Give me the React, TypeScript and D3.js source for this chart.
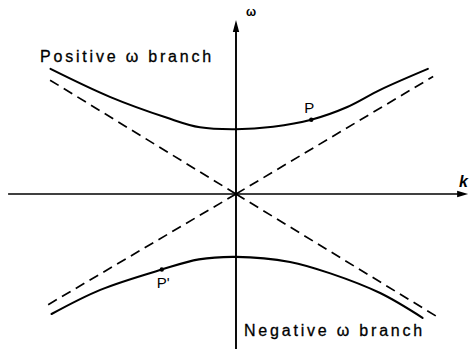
import React from "react";
import * as d3 from "d3";

// Dispersion branches read as (k, ω) samples
const upperK = [-1.75, -1.19, -0.65, -0.34, 0, 0.35, 0.71, 1.05, 1.36, 1.81];
const upperW = [1.97, 1.53, 1.2, 1.05, 1.02, 1.06, 1.17, 1.37, 1.64, 1.97];
const lowerK = [-1.74, -1.28, -0.7, -0.35, 0, 0.51, 0.89, 1.36, 1.76];
const lowerW = [-1.89, -1.51, -1.19, -1.03, -0.99, -1.07, -1.25, -1.56, -1.95];

// Light-cone asymptotes, drawn as rays out of the origin
const asymK = [-1.8, 1.86, -1.82, 1.905];
const asymW = [1.84, 1.85, -1.79, -1.94];

// Marked points on each branch
const pointNames = ["P", "P'"];
const pointK = [0.71, -0.7];
const pointW = [1.17, -1.19];

// Axis extents
const kAxis = [-2.15, 2.19];
const wAxis = [-2.45, 2.74];

const W = 469;
const H = 349;
const cx = 236;
const cy = 194;

export default function App() {
  const x = d3.scaleLinear().domain([-1, 1]).range([cx - 106, cx + 106]);
  const y = d3.scaleLinear().domain([-1, 1]).range([cy + 63.5, cy - 63.5]);

  const line = d3
    .line<[number, number]>()
    .x((d) => x(d[0]))
    .y((d) => y(d[1]))
    .curve(d3.curveCatmullRom.alpha(0.5));

  const upper = upperK.map((k, i) => [k, upperW[i]] as [number, number]);
  const lower = lowerK.map((k, i) => [k, lowerW[i]] as [number, number]);

  const font = "'Liberation Sans', Arial, sans-serif";
  const xEnd = x(kAxis[1]);
  const yTop = y(wAxis[1]);

  return (
    <svg
      width={W}
      height={H}
      style={{ position: "absolute", left: 0, top: 0, background: "#fff" }}
    >
      {/* axes */}
      <line x1={x(kAxis[0])} x2={xEnd - 6} y1={y(0)} y2={y(0)} stroke="#000" strokeWidth={1.6} />
      <path
        d={`M${xEnd},${y(0)} L${xEnd - 11},${y(0) - 3.2} L${xEnd - 11},${y(0) + 3.2} Z`}
        fill="#000"
      />
      <line x1={x(0)} x2={x(0)} y1={y(wAxis[0])} y2={yTop + 6} stroke="#000" strokeWidth={1.9} />
      <path
        d={`M${x(0)},${yTop} L${x(0) - 3.2},${yTop + 12} L${x(0) + 3.2},${yTop + 12} Z`}
        fill="#000"
      />

      {/* asymptotes */}
      {asymK.map((k, i) => (
        <line
          key={i}
          x1={x(0)}
          y1={y(0)}
          x2={x(k)}
          y2={y(asymW[i])}
          stroke="#000"
          strokeWidth={1.7}
          strokeDasharray="10 6"
        />
      ))}

      {/* branches */}
      <path d={line(upper) ?? ""} fill="none" stroke="#000" strokeWidth={2.1} strokeLinecap="round" />
      <path d={line(lower) ?? ""} fill="none" stroke="#000" strokeWidth={2.1} strokeLinecap="round" />

      {/* marked points */}
      {pointK.map((k, i) => (
        <circle key={i} cx={x(k)} cy={y(pointW[i])} r={2.2} fill="#000" />
      ))}
      <text x={x(pointK[0]) - 7} y={y(pointW[0]) - 7} fontFamily={font} fontSize={15} fill="#000">
        {pointNames[0]}
      </text>
      <text x={x(pointK[1]) - 5} y={y(pointW[1]) + 18} fontFamily={font} fontSize={15} fill="#000">
        {pointNames[1]}
      </text>

      {/* axis labels */}
      <text x={x(0) + 10} y={yTop - 4} fontFamily={font} fontSize={12} fontWeight="bold" fill="#000">
        ω
      </text>
      <text
        x={W - 10}
        y={y(0) - 7}
        fontFamily={font}
        fontSize={16}
        fontWeight="bold"
        fontStyle="italic"
        fill="#000"
      >
        k
      </text>

      {/* branch labels */}
      <text
        x={40}
        y={62}
        fontFamily={font}
        fontSize={16}
        letterSpacing={2.8}
        fill="#000"
        stroke="#000"
        strokeWidth={0.3}
      >
        Positive ω branch
      </text>
      <text
        x={244}
        y={336}
        fontFamily={font}
        fontSize={16}
        letterSpacing={2.8}
        fill="#000"
        stroke="#000"
        strokeWidth={0.3}
      >
        Negative ω branch
      </text>
    </svg>
  );
}
